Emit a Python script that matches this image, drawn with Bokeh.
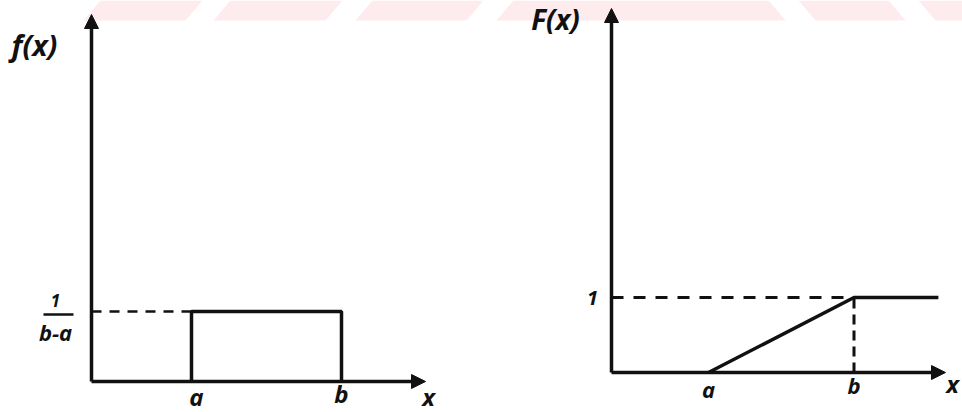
from bokeh.plotting import figure
from bokeh.layouts import row
from bokeh.models import Range1d, Arrow, NormalHead
from bokeh.core.properties import value
from bokeh.embed import file_html
from bokeh.resources import INLINE

# --- uniform distribution on [a, b] ---
a = 2.0
b = 5.0
density = 1.0 / (b - a)

pdf_x = [a, a, b, b]
pdf_y = [0.0, density, density, 0.0]

cdf_x = [a, b, 6.74]
cdf_y = [0.0, 1.0, 1.0]

pdf_tick_labels = ["a", "b"]
cdf_tick_labels = ["a", "b"]

W, H = 962, 412
INK = "#111111"
PINK = "#fdebee"
FONT = value("Open Sans")


def make_panel(left_px, width, ox, oy, sx, sy):
    """Panel whose data origin sits at canvas pixel (ox, oy), sx/sy px per unit."""
    x0 = (left_px - ox) / sx
    x1 = (left_px + width - ox) / sx
    y0 = -(H - oy) / sy
    y1 = oy / sy
    p = figure(width=width, height=H, x_range=Range1d(x0, x1), y_range=Range1d(y0, y1),
               x_axis_type=None, y_axis_type=None, output_backend="svg",
               toolbar_location=None, min_border=0, outline_line_color=None,
               background_fill_color="white", border_fill_color="white")
    p.grid.visible = False

    def X(px):
        return (px - ox) / sx

    def Y(py):
        return (oy - py) / sy

    # faint striped banner along the top edge
    stripes = [((83, 185), (100, 202)), ((213, 325), (230, 342)), ((355, 466), (372, 483)),
               ((496, 785), (513, 768)), ((815, 905), (798, 888)), ((935, 975), (918, 975))]
    xs, ys = [], []
    for (bl, br), (tl, tr) in stripes:
        xs.append([X(bl), X(br), X(tr), X(tl)])
        ys.append([Y(20), Y(20), Y(0), Y(0)])
    p.patches(xs, ys, fill_color=PINK, line_color=None)
    return p, X, Y


def axes(p, x_tip, y_tip):
    head = dict(size=14, fill_color=INK, line_color=INK, line_width=1)
    p.add_layout(Arrow(x_start=0, y_start=0, x_end=0, y_end=y_tip,
                       end=NormalHead(**head), line_width=3.5, line_color=INK))
    p.add_layout(Arrow(x_start=0, y_start=0, x_end=x_tip, y_end=0,
                       end=NormalHead(**head), line_width=3.5, line_color=INK))


def label(p, x, y, txt, size="22px"):
    p.text([x], [y], text=[txt], text_font=FONT, text_font_style="bold italic",
           text_font_size=size, text_color=INK, text_align="center",
           text_baseline="middle")


# ---------------- density f(x) ----------------
p1, X1, Y1 = make_panel(0, 481, 91, 381, 50.0, 210.0)
axes(p1, X1(425), Y1(14))
p1.line([0, a], [density, density], line_width=2.5, line_color=INK, line_dash="10 8")
p1.line(pdf_x, pdf_y, line_width=3.5, line_color=INK)

label(p1, a + 0.1, Y1(396), pdf_tick_labels[0], "24px")
label(p1, b, Y1(393), pdf_tick_labels[1], "24px")
label(p1, X1(428), Y1(396), "x", "24px")
label(p1, X1(34), Y1(44), "f(x)", "29px")
label(p1, X1(55), Y1(300), "1", "17px")
p1.line([X1(43), X1(73)], [Y1(314), Y1(314)], line_width=2.5, line_color=INK)
label(p1, X1(55), Y1(331), "b-a", "22px")

# ---------------- distribution F(x) ----------------
p2, X2, Y2 = make_panel(481, 481, 611, 372, 48.5, 75.0)
axes(p2, X2(945), Y2(8))
p2.line([0, b], [1, 1], line_width=3, line_color=INK, line_dash="12 10")
p2.line([b, b], [0, 1], line_width=3, line_color=INK, line_dash="10 6")
p2.line(cdf_x, cdf_y, line_width=3.5, line_color=INK)

label(p2, a, Y2(388), cdf_tick_labels[0], "22px")
label(p2, b, Y2(384), cdf_tick_labels[1], "22px")
label(p2, X2(952), Y2(383), "x", "24px")
label(p2, X2(555), Y2(18), "F(x)", "28px")
label(p2, X2(592), 1.0, "1", "20px")

layout = row(p1, p2)
open("out.html", "w").write(file_html(layout, INLINE))
